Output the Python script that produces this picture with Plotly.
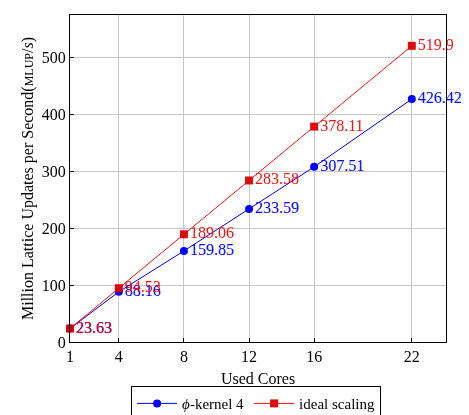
import plotly.graph_objects as go

cores = [1, 4, 8, 12, 16, 22]
kernel = [23.63, 88.16, 159.85, 233.59, 307.51, 426.42]
ideal = [23.63, 94.53, 189.06, 283.58, 378.11, 519.9]
kernel_labels = ["23.63", "88.16", "159.85", "233.59", "307.51", "426.42"]
ideal_labels = ["23.63", "94.53", "189.06", "283.58", "378.11", "519.9"]

FONT = "Liberation Serif, DejaVu Serif, serif"

fig = go.Figure()
fig.add_trace(go.Scatter(
    x=cores, y=kernel, mode="lines+markers+text", name="<i>ϕ</i>-kernel 4",
    line=dict(color="#0000ff", width=1), marker=dict(symbol="circle", size=8, color="#0000ff"),
    text=kernel_labels, textposition="middle right",
    textfont=dict(color="#0000ff", size=16, family=FONT), cliponaxis=False))
fig.add_trace(go.Scatter(
    x=cores, y=ideal, mode="lines+markers+text", name="ideal scaling",
    line=dict(color="#ff0000", width=1), marker=dict(symbol="square", size=8, color="#dd0000"),
    text=ideal_labels, textposition="middle right",
    textfont=dict(color="#ff0000", size=16, family=FONT), opacity=0.95, cliponaxis=False))

fig.update_layout(
    width=469, height=415,
    margin=dict(l=70, r=23, t=15, b=73, autoexpand=False),
    paper_bgcolor="white", plot_bgcolor="white",
    font=dict(family=FONT, size=16, color="black"),
    showlegend=True,
    legend=dict(orientation="h", x=0.495, xanchor="center", y=-0.135, yanchor="top",
                bordercolor="black", borderwidth=1, font=dict(size=15),
                itemwidth=40, tracegroupgap=0),
    xaxis=dict(range=[1, 24.1], tickvals=cores, ticktext=[str(c) for c in cores],
               showgrid=True, gridcolor="#c8c8c8", gridwidth=1,
               showline=True, linecolor="black", linewidth=1, mirror=True,
               ticks="inside", ticklen=4, tickcolor="black", zeroline=False,
               title=dict(text="Used Cores", standoff=8, font=dict(size=16)), tickfont=dict(size=16)),
    yaxis=dict(range=[0, 574], tickvals=[0, 100, 200, 300, 400, 500],
               showgrid=True, gridcolor="#c8c8c8", gridwidth=1,
               showline=True, linecolor="black", linewidth=1, mirror=True,
               ticks="inside", ticklen=4, tickcolor="black", zeroline=False,
               title=dict(text="Million Lattice Updates per Second(<span style='font-size:12px'>MLUP</span>/<i>s</i>)", standoff=4, font=dict(size=16)),
               tickfont=dict(size=16)),
)
fig.write_html("out.html")
